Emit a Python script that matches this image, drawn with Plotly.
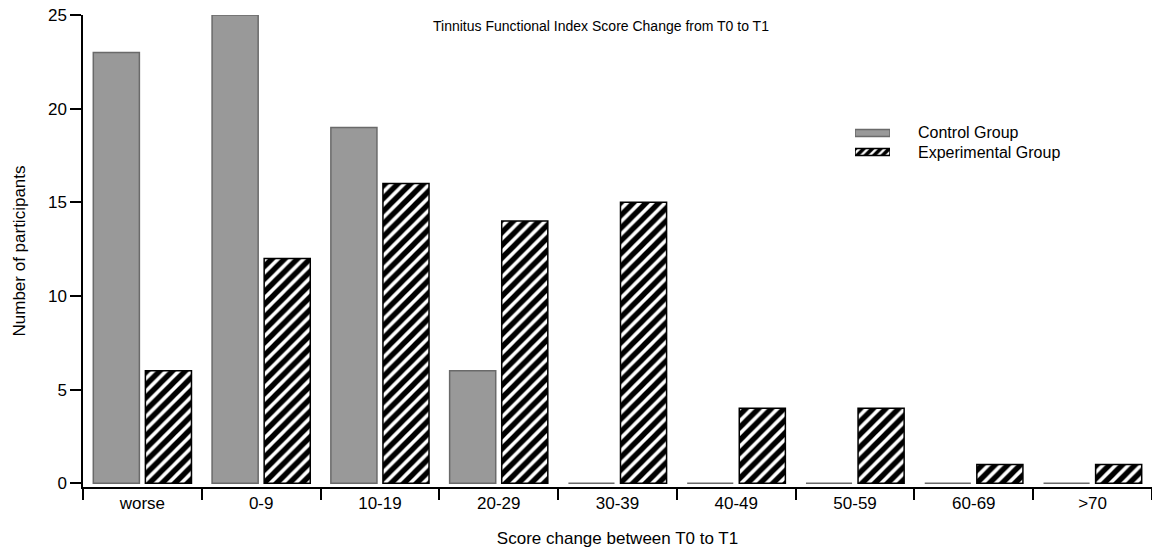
import plotly.graph_objects as go

categories = ["worse", "0-9", "10-19", "20-29", "30-39", "40-49", "50-59", "60-69", ">70"]
control_counts = [23, 25, 19, 6, 0, 0, 0, 0, 0]
experimental_counts = [6, 12, 16, 14, 15, 4, 4, 1, 1]
group_names = ["Control Group", "Experimental Group"]

FONT = "Liberation Sans, Arial, sans-serif"

CONTROL_MARKER = dict(color="#999999", line=dict(color="#6a6a6a", width=1.5))
HATCH_MARKER = dict(
    color="white",
    line=dict(color="black", width=1.5),
    pattern=dict(shape="/", size=9, solidity=0.6, fgcolor="black",
                 bgcolor="white", fgopacity=1),
)

fig = go.Figure()
fig.add_trace(go.Bar(x=categories, y=control_counts, name=group_names[0],
                     marker=CONTROL_MARKER, showlegend=False))
fig.add_trace(go.Bar(x=categories, y=experimental_counts, name=group_names[1],
                     marker=HATCH_MARKER, showlegend=False))

# Key: wide swatches drawn on a small inset axis, labels to their right
fig.add_trace(go.Bar(x=[1], y=[1], orientation="h", width=0.37, marker=CONTROL_MARKER,
                     xaxis="x2", yaxis="y2", showlegend=False, hoverinfo="skip"))
fig.add_trace(go.Bar(x=[1], y=[0], orientation="h", width=0.37,
                     marker=dict(color="white", line=dict(color="black", width=1.5),
                                 pattern=dict(shape="/", size=6, solidity=0.6,
                                              fgcolor="black", bgcolor="white", fgopacity=1)),
                     xaxis="x2", yaxis="y2", showlegend=False, hoverinfo="skip"))

W, H, L, T, B = 1152, 551, 83, 15, 64
plot_w, plot_h = W - L, H - T - B


def px_x(px):
    return (px - L) / plot_w


def px_y(py):
    return 1 - (py - T) / plot_h


fig.update_layout(
    width=W, height=H,
    margin=dict(l=L, r=0, t=T, b=B, autoexpand=False),
    paper_bgcolor="white", plot_bgcolor="white",
    font=dict(family=FONT, size=17, color="black"),
    barmode="group", bargap=0.123, bargroupgap=0.115,
    showlegend=False,
    xaxis=dict(
        type="category", range=[-0.5, 8.5],
        showline=True, linecolor="black", linewidth=1.5,
        ticks="outside", ticklen=11, tickwidth=1.5, tickcolor="black",
        tickson="boundaries", showgrid=False, zeroline=False,
        tickfont=dict(size=17),
        title=dict(text="Score change between T0 to T1", font=dict(size=17), standoff=20),
    ),
    yaxis=dict(
        range=[-0.2, 25], tickvals=[0, 5, 10, 15, 20, 25],
        showline=True, linecolor="black", linewidth=1.5,
        ticks="outside", ticklen=11, tickwidth=1.5, tickcolor="black",
        showgrid=False, zeroline=False,
        tickfont=dict(size=17),
        title=dict(text="Number of participants", font=dict(size=17), standoff=18),
    ),
    xaxis2=dict(domain=[px_x(855), px_x(890)], anchor="y2", range=[0, 1],
                visible=False, fixedrange=True),
    yaxis2=dict(domain=[px_y(161.5), px_y(123.5)], anchor="x2", range=[-0.5, 1.5],
                visible=False, fixedrange=True),
    annotations=[
        dict(text="Tinnitus Functional Index Score Change from T0 to T1",
             xref="paper", yref="paper", x=px_x(601), y=px_y(26),
             xanchor="center", yanchor="middle", showarrow=False,
             font=dict(size=14)),
        dict(text=group_names[0], xref="paper", yref="paper",
             x=px_x(916), y=px_y(132), xanchor="left", yanchor="middle",
             showarrow=False, font=dict(size=16)),
        dict(text=group_names[1], xref="paper", yref="paper",
             x=px_x(916), y=px_y(152), xanchor="left", yanchor="middle",
             showarrow=False, font=dict(size=16)),
    ],
)

fig.write_html("out.html")
